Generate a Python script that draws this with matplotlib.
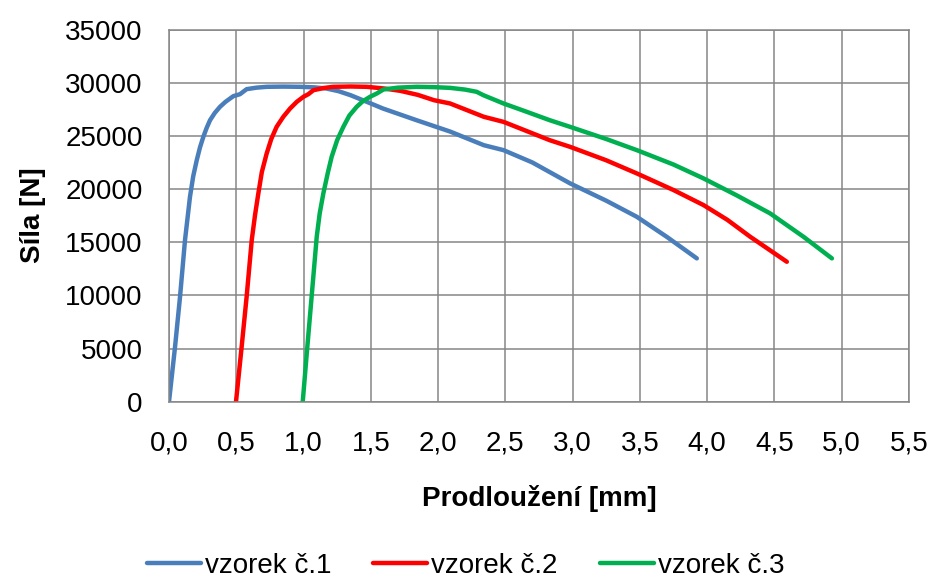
import matplotlib
matplotlib.use("Agg")
import matplotlib.pyplot as plt
from matplotlib.ticker import FuncFormatter

plt.rcParams['font.family'] = ['Liberation Sans', 'DejaVu Sans']

x1 = [0.0, 0.045, 0.082, 0.119, 0.156, 0.18, 0.206, 0.23, 0.255, 0.28, 0.305, 0.34, 0.379,
      0.42, 0.478, 0.528, 0.577, 0.65, 0.726, 0.85, 0.974, 1.08, 1.17, 1.26, 1.35, 1.47,
      1.59, 1.84, 2.09, 2.34, 2.486, 2.70, 2.98, 3.25, 3.477, 3.70, 3.923]
y1 = [0, 5170, 9870, 15200, 19270, 21200, 22700, 23900, 24900, 25750, 26470, 27150, 27730,
      28200, 28730, 28920, 29390, 29530, 29610, 29630, 29610, 29560, 29450, 29200, 28820, 28200,
      27570, 26470, 25400, 24120, 23656, 22500, 20536, 18900, 17387, 15500, 13477]

x2 = [0.498, 0.540, 0.577, 0.615, 0.64, 0.664, 0.69, 0.726, 0.76, 0.800, 0.85, 0.900, 0.95,
      0.999, 1.036, 1.073, 1.15, 1.22, 1.35, 1.47, 1.60, 1.72, 1.85, 1.97, 2.089, 2.34,
      2.486, 2.83, 2.981, 3.25, 3.477, 3.75, 3.973, 4.15, 4.32, 4.46, 4.592]
y2 = [0, 5170, 9870, 15200, 17600, 19580, 21600, 23340, 24700, 25850, 26800, 27570, 28200,
      28670, 28920, 29290, 29500, 29610, 29640, 29610, 29450, 29230, 28850, 28350, 28045, 26790,
      26316, 24590, 23966, 22700, 21466, 19900, 18487, 17100, 15508, 14300, 13158]

x3 = [0.994, 1.024, 1.06, 1.098, 1.12, 1.147, 1.18, 1.209, 1.25, 1.296, 1.34, 1.395, 1.44,
      1.494, 1.544, 1.594, 1.70, 1.84, 1.97, 2.09, 2.2, 2.287, 2.337, 2.486, 2.65, 2.83,
      2.981, 3.25, 3.477, 3.75, 3.973, 4.22, 4.468, 4.716, 4.927]
y3 = [0, 4540, 9870, 15510, 17700, 19580, 21500, 23030, 24600, 25850, 26900, 27730, 28250,
      28670, 28980, 29360, 29530, 29610, 29580, 29510, 29350, 29140, 28820, 28045, 27300, 26470,
      25846, 24700, 23656, 22300, 20996, 19400, 17706, 15508, 13477]

labels = ['vzorek č.1', 'vzorek č.2', 'vzorek č.3']
colors = ['#4a7ebb', '#ff0000', '#00b050']

fig = plt.figure(figsize=(9.31, 5.83), dpi=100)
ax = fig.add_axes([169/931, 1 - 401.7/583, 740/931, (401.7 - 29.5)/583])

for xs, ys, lab, c in zip([x1, x2, x3], [y1, y2, y3], labels, colors):
    ax.plot(xs, ys, color=c, lw=3.2, label=lab, solid_capstyle='round', solid_joinstyle='round')

ax.set_xlim(0, 5.5)
ax.set_ylim(0, 35000)
ax.set_xticks([i * 0.5 for i in range(12)])
ax.set_yticks(range(0, 35001, 5000))
ax.xaxis.set_major_formatter(FuncFormatter(lambda v, p: f"{v:.1f}".replace('.', ',')))
ax.grid(True, color='#868686', lw=1.1)
for s in ax.spines.values():
    s.set_color('#868686')
    s.set_linewidth(1.1)
ax.tick_params(length=0, labelsize=20)
ax.tick_params(axis='x', pad=21)
ax.tick_params(axis='y', pad=19)
ax.set_xlabel('Prodloužení [mm]', fontsize=20, fontweight='bold', labelpad=20)
ax.set_ylabel('Síla [N]', fontsize=20, fontweight='bold', labelpad=14)

fig.legend(loc='center', bbox_to_anchor=(0.5, 1 - 566/583), ncol=3, frameon=False,
           fontsize=20, handlelength=1.95, handletextpad=0.15, columnspacing=1.5,
           borderpad=0.1)

fig.savefig('out.png', dpi=100)
